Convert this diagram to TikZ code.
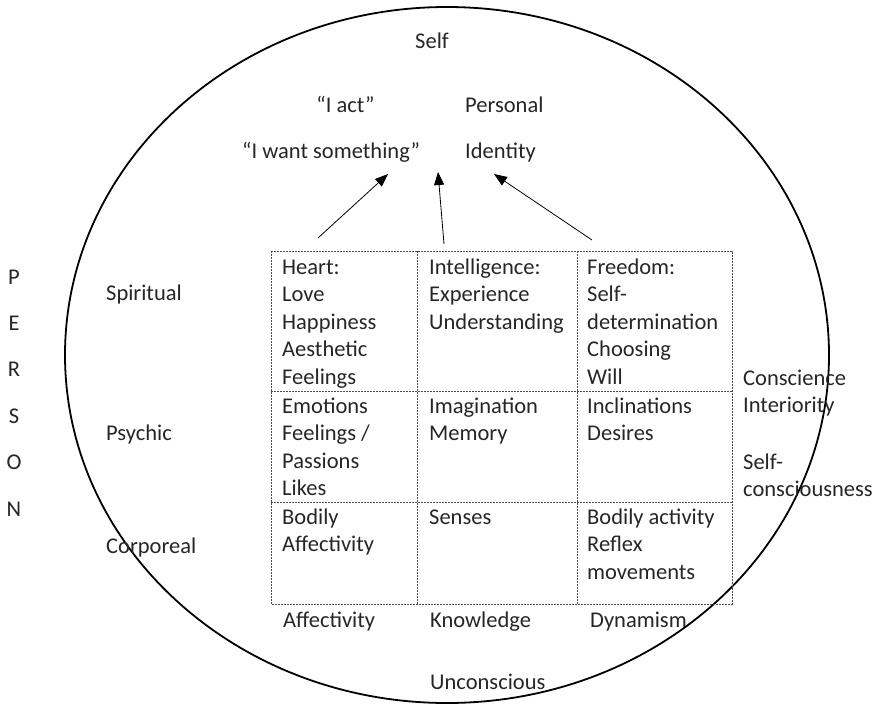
\documentclass[tikz,border=0pt]{standalone}
\usepackage{fontspec}
\setmainfont{Carlito}
\usetikzlibrary{arrows.meta}
\begin{document}
\begin{tikzpicture}[x=1pt,y=-1pt,
  every node/.style={inner sep=0pt, text=black!85, font=\fontsize{22.5}{27.5}\selectfont},
  lbl/.style={anchor=base west},
  cell/.style={anchor=north west, align=left},
  gridline/.style={draw=black!70, line width=0.7pt, dash pattern=on 2pt off 1pt},
  arr/.style={draw=black, line width=0.8pt, -{Triangle[length=13pt,width=10pt]}},
  outline/.style={draw=black, line width=1.8pt}]
\useasboundingbox (0,0) rectangle (878,704);
% outer ellipse
\draw[outline] (447,355) ellipse [x radius=382pt, y radius=348pt];
% grid
\draw[gridline] (271,251) rectangle (732,604);
\draw[gridline] (417,251) -- (417,604);
\draw[gridline] (577,251) -- (577,604);
\draw[gridline] (271,391) -- (732,391);
\draw[gridline] (271,502) -- (732,502);
% top texts
\node[anchor=base] (self) at (432,48) {Self};
\node[anchor=base] (iact) at (345.5,112) {“I act”};
\node[lbl] (personal) at (465,112) {Personal};
\node[lbl] (iwant) at (242,158) {“I want something”};
\node[lbl] (identity) at (465,158) {Identity};
% PERSON
\node[anchor=north, align=center, font=\fontsize{22.5}{46.4}\selectfont] (person) at (14,251.5) {\strut P\\E\\R\\S\\O\\N};
% levels
\node[lbl] (spiritual) at (106,300) {Spiritual};
\node[lbl] (psychic) at (106,440) {Psychic};
\node[lbl] (corporeal) at (106,553) {Corporeal};
% cells
\node[cell] (c11) at (282,254.75) {\strut Heart:\\Love\\Happiness\\Aesthetic\\Feelings};
\node[cell] (c12) at (429,254.75) {\strut Intelligence:\\Experience\\Understanding};
\node[cell] (c13) at (587,254.75) {\strut Freedom:\\Self-\\determination\\Choosing\\Will};
\node[cell] (c21) at (282,393.75) {\strut Emotions\\Feelings /\\Passions\\Likes};
\node[cell] (c22) at (429,393.75) {\strut Imagination\\Memory};
\node[cell] (c23) at (587,393.75) {\strut Inclinations\\Desires};
\node[cell] (c31) at (282,504.75) {\strut Bodily\\Affectivity};
\node[cell] (c32) at (429,504.75) {\strut Senses};
\node[cell] (c33) at (587,504.75) {\strut Bodily activity\\Reflex\\movements};
% right side
\node[cell] (conscience) at (743,365.75) {\strut Conscience\\Interiority};
\node[cell] (selfcons) at (743,449.75) {\strut Self-\\consciousness};
% bottom
\node[lbl] (affectivity) at (283,627) {Affectivity};
\node[lbl] (knowledge) at (430,627) {Knowledge};
\node[lbl] (dynamism) at (590,627) {Dynamism};
\node[lbl] (unconscious) at (430,689) {Unconscious};
% arrows
\coordinate (a1s) at (318,238);
\coordinate (a1e) at (388,174);
\coordinate (a2s) at (444,244);
\coordinate (a2e) at (438,172);
\coordinate (a3s) at (592,240);
\coordinate (a3e) at (494,174);
\draw[arr] (a1s) -- (a1e);
\draw[arr] (a2s) -- (a2e);
\draw[arr] (a3s) -- (a3e);
\end{tikzpicture}
\end{document}
